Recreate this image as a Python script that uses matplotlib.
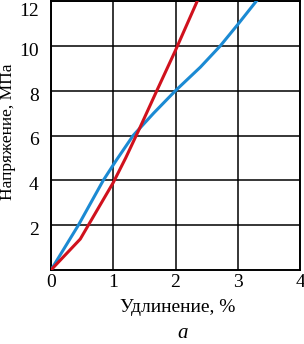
import matplotlib
matplotlib.use("Agg")
import matplotlib.pyplot as plt
from matplotlib.transforms import ScaledTranslation

# strain, %  /  stress, MPa
red_x = [0, 0.47, 0.6, 1.0, 1.2, 1.42, 1.7, 2.0, 2.35, 2.45]
red_y = [0, 1.38, 2.0, 3.9, 5.0, 6.3, 8.0, 9.8, 12.0, 12.6]
blue_x = [0, 0.44, 0.84, 1.05, 1.32, 1.65, 2.0, 2.4, 2.72, 3.0, 3.3, 3.4]
blue_y = [0, 2.0, 4.0, 4.9, 6.0, 7.0, 8.0, 9.05, 10.0, 10.95, 12.0, 12.3]

x_ticks = [0, 1, 2, 3, 4]
y_ticks = [2, 4, 6, 8, 10, 12]

plt.rcParams["font.family"] = ["Liberation Serif", "DejaVu Serif"]

fig = plt.figure(figsize=(3.04, 3.44), dpi=100)
ax = fig.add_axes([51 / 304, 74 / 344, 249 / 304, 269 / 344])

ax.plot(blue_x, blue_y, color="#1b8ad3", lw=2.2, solid_capstyle="round", zorder=3)
ax.plot(red_x, red_y, color="#d0111d", lw=2.2, solid_capstyle="round", zorder=3)

ax.set_xlim(0, 4)
ax.set_ylim(0, 12)
ax.set_xticks(x_ticks)
ax.set_yticks(y_ticks)
ax.grid(True, color="black", lw=1.1)
ax.tick_params(length=0, labelsize=14)
ax.tick_params(axis="y", pad=9)
ax.tick_params(axis="x", pad=3)
for s in ax.spines.values():
    s.set_linewidth(1.4)

# y labels sit a little below their grid lines, the top one more so
for lab, v in zip(ax.get_yticklabels(), y_ticks):
    dy = -6 / 72 if v == 12 else -2.5 / 72
    lab.set_transform(lab.get_transform() + ScaledTranslation(0, dy, fig.dpi_scale_trans))

ax.set_xlabel("Удлинение, %", fontsize=14)
ax.xaxis.set_label_coords(0.508, -0.138)
ax.xaxis.label.set_va("center")
ax.set_ylabel("Напряжение, МПа", fontsize=12.5)
ax.yaxis.set_label_coords(-0.173, 0.513)
ax.yaxis.label.set_va("center")
fig.text(0.60, 0.018, "а", fontsize=15, style="italic", ha="center", va="baseline")

fig.savefig("out.png", dpi=100)
